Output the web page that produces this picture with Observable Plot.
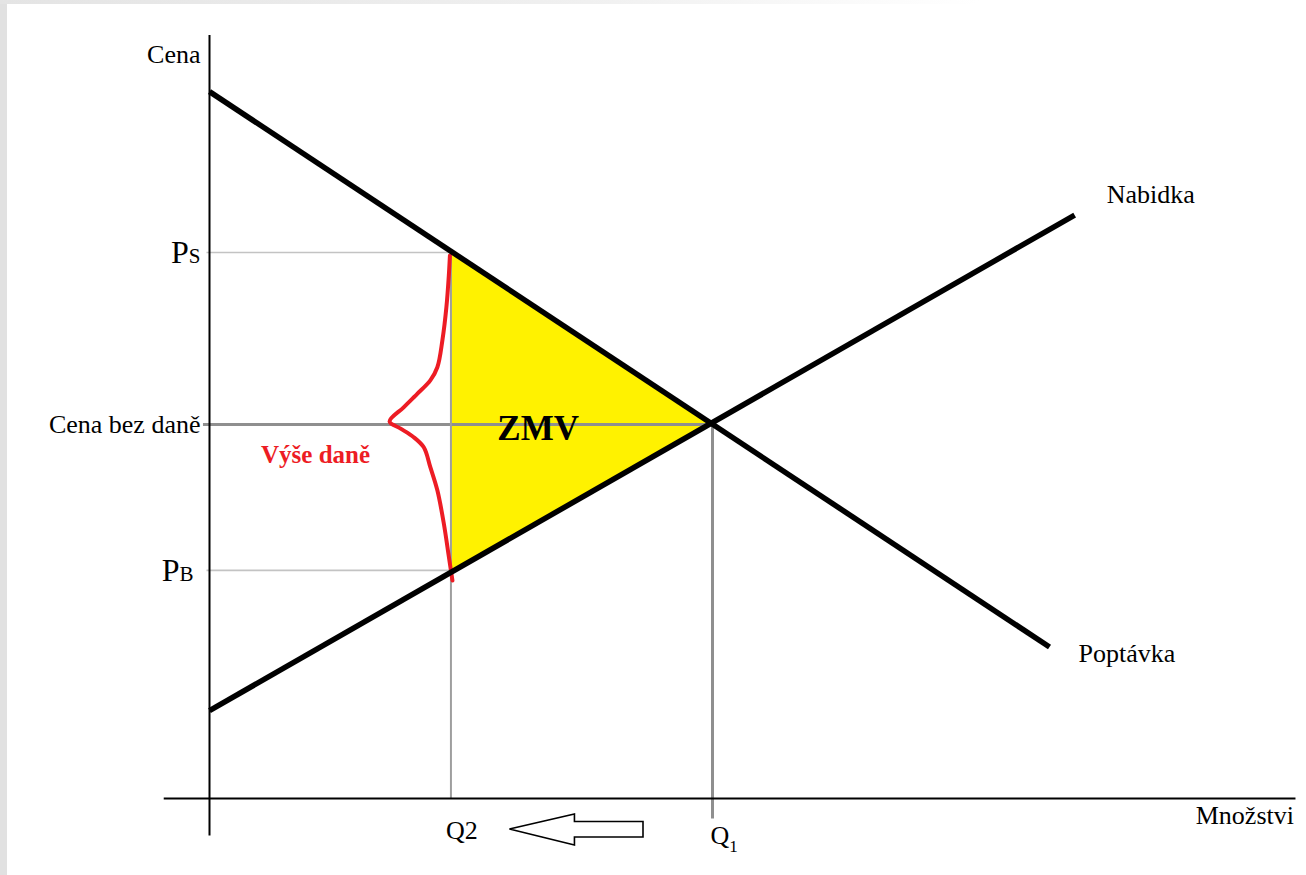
<!DOCTYPE html>
<html>
<head>
<meta charset="utf-8">
<script src="https://cdn.jsdelivr.net/npm/d3@7"></script>
<script src="https://cdn.jsdelivr.net/npm/@observablehq/plot@0.6"></script>
<style>
html, body { margin: 0; padding: 0; background: #ffffff; }
#wrap { position: relative; width: 1306px; height: 875px; overflow: hidden; background: #ffffff; }
#leftband { position: absolute; left: 0; top: 0; width: 7px; height: 875px; background: #e1e1e1; }
#topband { position: absolute; left: 0; top: 0; width: 1306px; height: 4px;
  background: linear-gradient(to right, #e4e4e4 0%, #f0f0f0 45%, #ffffff 75%); }
</style>
</head>
<body>
<div id="wrap"></div>
<script>
// ---- data (economic units: quantity q, price p) ----
const equilibrium = {q: 10, p: 10};                 // Q1, cena bez daně
const demand = [{q: 0, p: 18.9}, {q: 16.7, p: 4.05}];
const supply = [{q: 0, p: 2.35}, {q: 17.2, p: 15.6}];
const priceLevels = [
  {label: "PS", p: 14.6},
  {label: "Cena bez daně", p: 10},
  {label: "PB", p: 6.1}
];
const quantityLevels = [
  {label: "Q2", q: 4.8},
  {label: "Q1", q: 10}
];
const deadweightLoss = [
  {q: 4.8, p: 14.6},
  {q: 10, p: 10},
  {q: 4.8, p: 6.1}
];
const taxBrace = [
  {q: 4.78, p: 14.52}, {q: 4.76, p: 14.03}, {q: 4.71, p: 13.14}, {q: 4.63, p: 12.25},
  {q: 4.53, p: 11.53}, {q: 4.39, p: 11.18}, {q: 4.13, p: 10.82}, {q: 3.86, p: 10.46},
  {q: 3.58, p: 10.08}, {q: 3.80, p: 9.89}, {q: 4.06, p: 9.66}, {q: 4.26, p: 9.39},
  {q: 4.39, p: 8.86}, {q: 4.53, p: 8.24}, {q: 4.66, p: 7.34}, {q: 4.76, p: 6.45},
  {q: 4.83, p: 5.83}
];
const xAxisExtent = [-0.9, 21.6];
const yAxisExtent = [-1.0, 20.4];
const axisTitles = ["Cena", "Množstvi"];
const curveLabels = ["Nabidka", "Poptávka"];
const areaLabels = ["ZMV", "Výše daně"];

// ---- derived helpers ----
const Ps = priceLevels[0].p, P0 = priceLevels[1].p, PB = priceLevels[2].p;
const Q2 = quantityLevels[0].q, Q1 = quantityLevels[1].q;
const centroid = {
  q: d3.mean(deadweightLoss, d => d.q),
  p: d3.mean(deadweightLoss, d => d.p)
};
const braceTip = taxBrace.reduce((a, b) => (b.q < a.q ? b : a));
const serif = "'Liberation Serif', 'Times New Roman', serif";
const red = "#ed1c24";

const arrowMark = (index, scales) => {
  const x = scales.x, y = scales.y;
  const tip = x(Q2) + 59, base = tip + 65, tail = x(Q1) - 69, cy = y(0) + 31;
  const d = `M${tip},${cy} L${base},${cy - 15} L${base},${cy - 7.5} L${tail},${cy - 7.5} ` +
            `L${tail},${cy + 8} L${base},${cy + 8} L${base},${cy + 16} Z`;
  const g = d3.create("svg:g");
  g.append("path").attr("d", d).attr("fill", "#ffffff").attr("stroke", "#000000")
    .attr("stroke-width", 1.6).attr("stroke-linejoin", "miter");
  return g.node();
};

const chart = Plot.plot({
  width: 1306,
  height: 875,
  margin: 0,
  x: {domain: [0, equilibrium.q], range: [209, 712], axis: null},
  y: {domain: [0, equilibrium.p], range: [798, 424], axis: null},
  style: {background: "transparent", fontFamily: serif, color: "#000"},
  marks: [
    // deadweight loss triangle
    Plot.line(deadweightLoss, {x: "q", y: "p", fill: "#fff200", stroke: null}),
    // light guide lines at PS and PB
    Plot.ruleY([Ps, PB], {x1: -0.05, x2: Q2, stroke: "#c3c3c3", strokeWidth: 1.6}),
    // price without tax line
    Plot.ruleY([P0], {x1: -0.12, x2: Q1, stroke: "#8f8f8f", strokeWidth: 3}),
    // Q2 and Q1 drop lines
    Plot.ruleX([Q2], {y1: 0, y2: Ps, stroke: "#9e9e9e", strokeWidth: 2}),
    Plot.ruleX([Q1], {y1: -0.55, y2: P0, stroke: "#8f8f8f", strokeWidth: 3}),
    // axes
    Plot.ruleY([0], {x1: xAxisExtent[0], x2: xAxisExtent[1], stroke: "#000", strokeWidth: 2}),
    Plot.ruleX([0], {y1: yAxisExtent[0], y2: yAxisExtent[1], stroke: "#000", strokeWidth: 2}),
    // tax brace
    Plot.line(taxBrace, {x: "q", y: "p", stroke: red, strokeWidth: 4, curve: "catmull-rom"}),
    // demand & supply
    Plot.line(demand, {x: "q", y: "p", stroke: "#000", strokeWidth: 5.5, strokeLinecap: "butt"}),
    Plot.line(supply, {x: "q", y: "p", stroke: "#000", strokeWidth: 5.5, strokeLinecap: "butt"}),
    // arrow
    arrowMark,
    // price labels
    Plot.text([priceLevels[1]], {x: 0, y: "p", text: "label", dx: -9, textAnchor: "end",
      lineAnchor: "middle", fontSize: 26, fill: "#000"}),
    Plot.text([priceLevels[0]], {x: 0, y: "p", text: "label", dx: -9, textAnchor: "end",
      lineAnchor: "middle", fontSize: 32, fill: "#000"}),
    Plot.text([priceLevels[2]], {x: 0, y: "p", text: "label", dx: -16, textAnchor: "end",
      lineAnchor: "middle", fontSize: 32, fill: "#000"}),
    // quantity labels
    Plot.text([quantityLevels[0]], {x: "q", y: 0, text: "label", dx: -5, dy: 40, textAnchor: "start",
      lineAnchor: "bottom", fontSize: 26, fill: "#000"}),
    Plot.text([quantityLevels[1]], {x: "q", y: 0, text: "label", dx: -2, dy: 45, textAnchor: "start",
      lineAnchor: "bottom", fontSize: 26, fill: "#000"}),
    // axis titles
    Plot.text([axisTitles[0]], {x: 0, y: yAxisExtent[1], text: d => d, dx: -9, dy: 27,
      textAnchor: "end", lineAnchor: "bottom", fontSize: 26, fill: "#000"}),
    Plot.text([axisTitles[1]], {x: xAxisExtent[1], y: 0, text: d => d, dx: -2, dy: 25,
      textAnchor: "end", lineAnchor: "bottom", fontSize: 26, fill: "#000"}),
    // curve labels
    Plot.text([supply[1]], {x: "q", y: "p", text: () => curveLabels[0], dx: 32, dy: -12,
      textAnchor: "start", lineAnchor: "bottom", fontSize: 26, fill: "#000"}),
    Plot.text([demand[1]], {x: "q", y: "p", text: () => curveLabels[1], dx: 29, dy: 15,
      textAnchor: "start", lineAnchor: "bottom", fontSize: 26, fill: "#000"}),
    // area labels
    Plot.text([centroid], {x: "q", y: "p", text: () => areaLabels[0], dy: 13,
      textAnchor: "middle", lineAnchor: "middle", fontSize: 35, fontWeight: "bold", fill: "#000"}),
    Plot.text([braceTip], {x: "q", y: "p", text: () => areaLabels[1], dx: -74, dy: 41,
      textAnchor: "middle", lineAnchor: "bottom", fontSize: 25, fontWeight: "bold", fill: red})
  ]
});

// subscripts / small capitals
d3.select(chart).selectAll("text").each(function () {
  const t = this.textContent;
  const s = d3.select(this);
  if (t === "PS" || t === "PB") {
    s.text(null);
    s.append("tspan").text("P");
    s.append("tspan").attr("font-size", 21).text(t.slice(1));
  } else if (t === "Q1") {
    s.text(null);
    s.append("tspan").text("Q");
    s.append("tspan").attr("font-size", 17).attr("dy", 8).text("1");
  }
});

const wrap = document.getElementById("wrap");
wrap.appendChild(chart);
const lb = document.createElement("div"); lb.id = "leftband"; wrap.appendChild(lb);
const tb = document.createElement("div"); tb.id = "topband"; wrap.appendChild(tb);
</script>
</body>
</html>
